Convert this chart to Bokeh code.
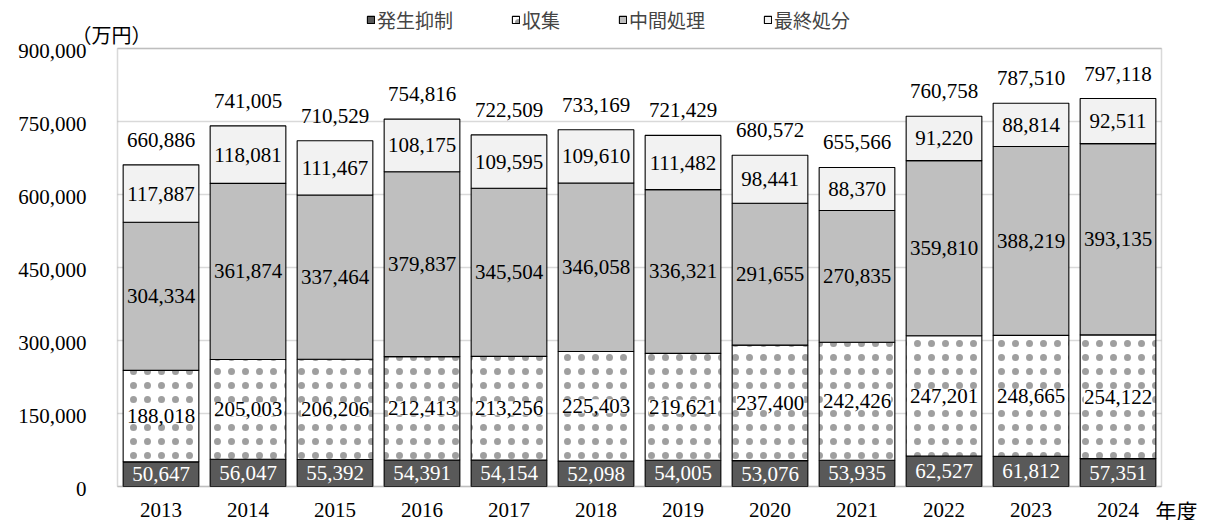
from bokeh.plotting import figure
from bokeh.models import (ColumnDataSource, LabelSet, Label, Legend, LegendItem,
                          BoxAnnotation, Range1d)
from bokeh.embed import file_html
from bokeh.resources import INLINE

# ---- data ----
years = ["2013", "2014", "2015", "2016", "2017", "2018", "2019", "2020", "2021", "2022", "2023", "2024"]
hassei = [50647, 56047, 55392, 54391, 54154, 52098, 54005, 53076, 53935, 62527, 61812, 57351]
shushu = [188018, 205003, 206206, 212413, 213256, 225403, 219621, 237400, 242426, 247201, 248665, 254122]
chukan = [304334, 361874, 337464, 379837, 345504, 346058, 336321, 291655, 270835, 359810, 388219, 393135]
saishu = [117887, 118081, 111467, 108175, 109595, 109610, 111482, 98441, 88370, 91220, 88814, 92511]
totals = [660886, 741005, 710529, 754816, 722509, 733169, 721429, 680572, 655566, 760758, 787510, 797118]
series_names = ["発生抑制", "収集", "中間処理", "最終処分"]
y_ticks = [0, 150000, 300000, 450000, 600000, 750000, 900000]
unit_label = "（万円）"
x_axis_unit = "年度"

NUM_FONT = "Roboto"
JP_FONT = "Noto Sans CJK JP"

n = len(years)
y_max = y_ticks[-1]
keys = ["hassei", "shushu", "chukan", "saishu"]
xpos = [i + 0.5 for i in range(n)]
data = dict(x=xpos, hassei=hassei, shushu=shushu, chukan=chukan, saishu=saishu,
            totals=totals, years=years, zero=[0] * n)
b0 = [0] * n
b1 = [a + b for a, b in zip(b0, hassei)]
b2 = [a + b for a, b in zip(b1, shushu)]
b3 = [a + b for a, b in zip(b2, chukan)]
for k, vals, base in zip(keys, [hassei, shushu, chukan, saishu], [b0, b1, b2, b3]):
    data[k + "_mid"] = [bb + v / 2 for bb, v in zip(base, vals)]
    data[k + "_txt"] = [f"{v:,}" for v in vals]
data["tot_txt"] = [f"{v:,}" for v in totals]
src = ColumnDataSource(data)
tick_src = ColumnDataSource(dict(y=y_ticks, x=[0] * len(y_ticks),
                                 x1=[n] * len(y_ticks),
                                 txt=[f"{v:,}" for v in y_ticks]))

# layout: the plot area (0..n, 0..y_max) sits at canvas x 117..1161, y 48..486;
# the whole canvas is frame so that the outer texts are not clipped
W, H = 1204, 520
px_x = 1044 / n
px_y = 438 / y_max
x_range = Range1d(-117 / px_x, n + (W - 1161) / px_x)
y_range = Range1d(-(H - 486) / px_y, y_max + 48 / px_y)

p = figure(width=W, height=H, output_backend="svg", toolbar_location=None,
           x_range=x_range, y_range=y_range,
           x_axis_location=None, y_axis_location=None,
           min_border=0, min_border_left=0, min_border_right=0,
           min_border_top=0, min_border_bottom=0)
p.outline_line_color = None
p.grid.visible = False

# horizontal grid lines at the tick values
p.segment(x0="x", x1="x1", y0="y", y1="y", source=tick_src,
          line_color="#d9d9d9", line_width=1.5, level="underlay")

rs = p.vbar_stack(keys, x="x", width=0.87, source=src,
                  fill_color=["#595959", "#ffffff", "#bfbfbf", "#f2f2f2"],
                  line_color="black", line_width=1.1,
                  hatch_pattern=[" ", "dot", " ", " "],
                  hatch_color="#404040", hatch_alpha=0.5, hatch_scale=14, hatch_weight=0.1)

# plot-area border
p.add_layout(BoxAnnotation(left=0, right=n, bottom=0, top=y_max, fill_color=None,
                           line_color="#808080", line_width=1.5))

# y tick labels
p.add_layout(LabelSet(source=tick_src, x="x", y="y", text="txt", x_offset=-31, y_offset=-2,
                      text_align="right", text_baseline="middle", text_font=NUM_FONT,
                      text_font_size="21px", text_color="black"))
# x category labels
p.add_layout(LabelSet(source=src, x="x", y="zero", text="years", y_offset=-23,
                      text_align="center", text_baseline="middle", text_font=NUM_FONT,
                      text_font_size="21px", text_color="black"))
p.add_layout(Label(x=n, y=0, x_offset=15, y_offset=-23, text=x_axis_unit,
                   text_align="center", text_baseline="middle", text_font=JP_FONT,
                   text_font_size="21px", text_color="black"))
p.add_layout(Label(x=0, y=y_max, x_offset=-6, y_offset=14, text=unit_label,
                   text_align="center", text_baseline="middle", text_font=JP_FONT,
                   text_font_size="20px", text_color="black"))

# data labels
common = dict(source=src, x="x", text_align="center", text_baseline="middle",
              text_font=NUM_FONT, text_font_size="21px")
p.add_layout(LabelSet(y="hassei_mid", text="hassei_txt", text_color="white", **common))
p.add_layout(LabelSet(y="shushu_mid", text="shushu_txt", text_color="black",
                      background_fill_color="white", **common))
p.add_layout(LabelSet(y="chukan_mid", text="chukan_txt", text_color="black", **common))
p.add_layout(LabelSet(y="saishu_mid", text="saishu_txt", text_color="black", **common))
p.add_layout(LabelSet(y="totals", text="tot_txt", text_color="black", y_offset=25, **common))

legend = Legend(items=[LegendItem(label=nm, renderers=[r]) for nm, r in zip(series_names, rs)],
                orientation="horizontal", location=(366, 487),
                glyph_width=9, glyph_height=9, label_standoff=2, spacing=58,
                padding=0, margin=0, border_line_color=None, background_fill_alpha=0,
                label_text_font=JP_FONT, label_text_font_size="19px", label_height=22)
p.add_layout(legend)

open("out.html", "w").write(file_html(p, INLINE))
